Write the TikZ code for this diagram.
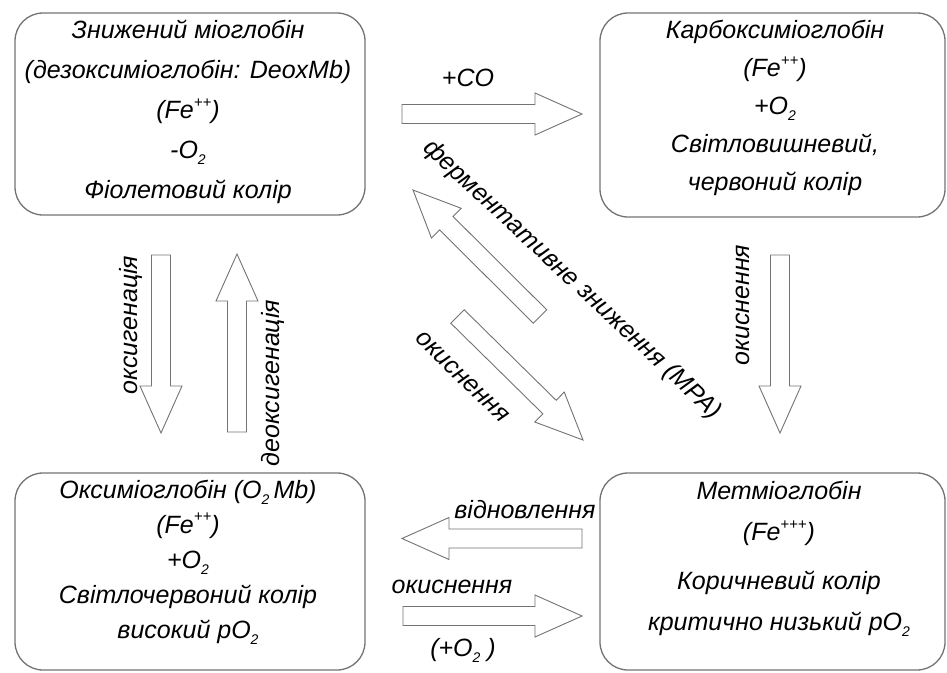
\documentclass[tikz,border=0pt]{standalone}
\usepackage{fontspec}
\setmainfont{Liberation Sans}
\usetikzlibrary{calc}
\newcommand{\lowtwo}{\raisebox{-0.45ex}{\fontsize{14}{14}\selectfont 2}}
\newcommand{\plusup}[1]{\raisebox{0.85ex}{\fontsize{15}{15}\selectfont #1}}
% block arrow from tail coordinate #1 to tip coordinate #2
\newcommand{\blockarrow}[2]{%
\draw [barrow] let \p1=($(#2)-(#1)$), \n1={veclen(\x1,\y1)}, \n2={atan2(\y1,\x1)} in
  [shift={(#1)}, rotate=\n2] (0pt,-9.5pt) -- ({\n1-47pt},-9.5pt) -- ({\n1-47pt},-21pt) -- (\n1,0pt)
  -- ({\n1-47pt},21pt) -- ({\n1-47pt},9.5pt) -- (0pt,9.5pt) -- cycle;}
\begin{document}
\begin{tikzpicture}[x=1pt,y=-1pt]
\tikzstyle{every node}=[font=\fontsize{25}{40}\selectfont\itshape, inner sep=0pt, align=center]
\tikzstyle{box}=[draw=black!55, line width=1.3pt, rounded corners=28pt, minimum width=350pt, minimum height=202pt]
\tikzstyle{barrow}=[draw=black!55, line width=0.9pt, fill=white, line join=miter]
\useasboundingbox (0,0) rectangle (947,672);
% states
\node [box] (deoxy) at (190,114) {};
\node (deoxytxt) at (188,112) {Знижений міоглобін\\(дезоксиміоглобін: DeoxMb)\\(Fe\plusup{++})\\-O\lowtwo\\Фіолетовий колір};
\node [box, minimum width=345pt, minimum height=204pt] (carboxy) at (772.5,115) {};
\node [font=\fontsize{25}{38}\selectfont\itshape] (carboxytxt) at (775,108) {Карбоксиміоглобін\\(Fe\plusup{++})\\+O\lowtwo\\Світловишневий,\\червоний колір};
\node [box, minimum height=197pt] (oxy) at (190,571.5) {};
\node [font=\fontsize{25}{35}\selectfont\itshape] (oxytxt) at (188,562) {Оксиміоглобін (O\lowtwo\,Mb)\\(Fe\plusup{++})\\+O\lowtwo\\Світлочервоний колір\\високий pO\lowtwo};
\node [box, minimum width=345pt, minimum height=197pt] (met) at (772.5,571.5) {};
\node [font=\fontsize{25}{41}\selectfont\itshape] (mettxt) at (779,559) {Метміоглобін\\(Fe\plusup{+++})\\[8pt]Коричневий колір\\критично низький pO\lowtwo};
% arrow ends
\coordinate (coA) at (402,114);    \coordinate (coB) at (582,114);
\coordinate (mpaA) at (540,316.5); \coordinate (mpaB) at (413,190);
\coordinate (dgA) at (457.5,316.5); \coordinate (dgB) at (583,440);
\coordinate (oxA) at (161,255);    \coordinate (oxB) at (161,433);
\coordinate (doxA) at (237,432);   \coordinate (doxB) at (237,254);
\coordinate (rtA) at (780,255);    \coordinate (rtB) at (780,433);
\coordinate (redA) at (582,538.5); \coordinate (redB) at (402,538.5);
\coordinate (okA) at (403,616);    \coordinate (okB) at (582,616);
\blockarrow{coA}{coB}
\blockarrow{mpaA}{mpaB}
\blockarrow{dgA}{dgB}
\blockarrow{oxA}{oxB}
\blockarrow{doxA}{doxB}
\blockarrow{rtA}{rtB}
\blockarrow{redA}{redB}
\blockarrow{okA}{okB}
% labels
\node (colbl) at (468,78) {+CO};
\node [rotate=-43] (mpalbl) at (572,280) {ферментативне зниження (MPA)};
\node [rotate=-44] (dglbl) at (462,377) {окиснення};
\node [rotate=90] (oxlbl) at (131,325) {оксигенація};
\node [rotate=90] (doxlbl) at (273,383) {деоксигенація};
\node [rotate=90] (rtlbl) at (743,305) {окиснення};
\node (redlbl) at (525,510) {відновлення};
\node (oklbl) at (452,587) {окиснення};
\node (o2lbl) at (463,650) {(+O\lowtwo\ )};
\end{tikzpicture}
\end{document}
